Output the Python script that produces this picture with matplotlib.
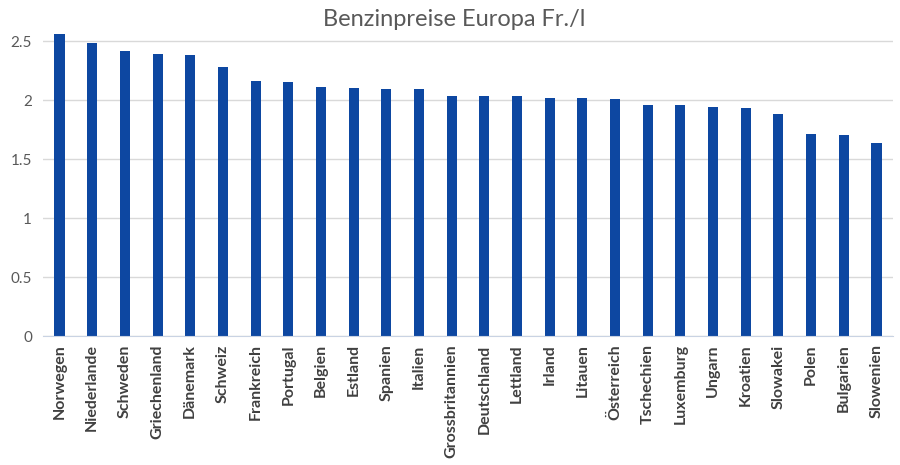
import numpy as np
import matplotlib

matplotlib.use("Agg")
import matplotlib.pyplot as plt

countries = [
    "Norwegen", "Niederlande", "Schweden", "Griechenland", "Dänemark", "Schweiz",
    "Frankreich", "Portugal", "Belgien", "Estland", "Spanien", "Italien",
    "Grossbritannien", "Deutschland", "Lettland", "Irland", "Litauen", "Österreich",
    "Tschechien", "Luxemburg", "Ungarn", "Kroatien", "Slowakei", "Polen",
    "Bulgarien", "Slowenien",
]
prices = [
    2.56, 2.48, 2.415, 2.387, 2.38, 2.28,
    2.164, 2.155, 2.11, 2.10, 2.096, 2.09,
    2.031, 2.031, 2.031, 2.014, 2.014, 2.008,
    1.955, 1.955, 1.938, 1.932, 1.884, 1.714,
    1.70, 1.633,
]
yticks = [0, 0.5, 1, 1.5, 2, 2.5]
ytick_labels = ["0", "0.5", "1", "1.5", "2", "2.5"]

plt.rcParams["font.family"] = ["Lato", "DejaVu Sans"]

fig = plt.figure(figsize=(9, 4.65), dpi=100)
ax = fig.add_axes([0.048, 0.2774, 0.944, 0.6495])

x = np.arange(len(countries))
ax.bar(x, prices, width=0.31, color="#0D47A1", zorder=3)

ax.set_xlim(-0.5, len(countries) - 0.5)
ax.set_ylim(0, 2.56)
ax.set_yticks(yticks)
ax.set_yticklabels(ytick_labels)
ax.set_xticks(x)
ax.set_xticklabels(countries, rotation=90, fontweight="bold")

ax.grid(axis="y", color="#D9D9D9", linewidth=1, zorder=0)
for s in ["top", "right", "left"]:
    ax.spines[s].set_visible(False)
ax.spines["bottom"].set_color("#C9D3E3")
ax.spines["bottom"].set_zorder(4)

ax.tick_params(axis="y", length=0, labelsize=11, labelcolor="#595959", pad=8)
ax.tick_params(axis="x", length=0, labelsize=11.5, labelcolor="#404040", pad=6)

fig.suptitle("Benzinpreise Europa Fr./l", x=0.505, y=0.98, fontsize=17,
             color="#595959", va="top")

fig.savefig("out.png", dpi=100)
